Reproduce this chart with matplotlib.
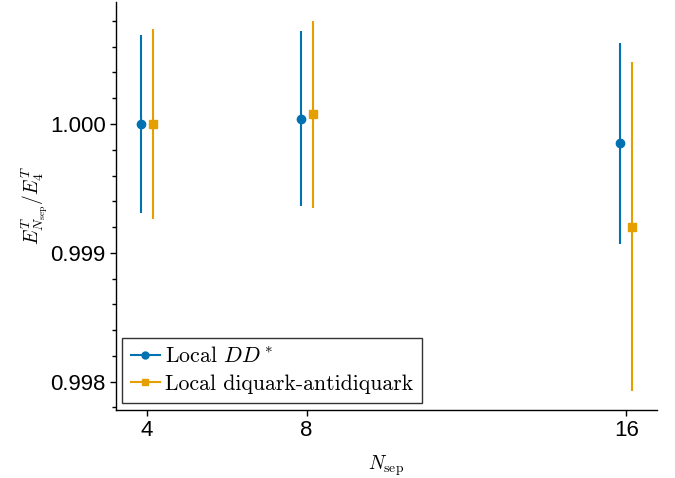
import matplotlib
matplotlib.use("Agg")
import matplotlib.pyplot as plt
from matplotlib.lines import Line2D
from matplotlib.ticker import MultipleLocator, FormatStrFormatter

plt.rcParams["mathtext.fontset"] = "cm"
plt.rcParams["font.family"] = ["Liberation Sans", "DejaVu Sans"]

# Time separations and normalized energies
n_sep = [4, 8, 16]
dd_val = [1.0, 1.000039, 0.99985]
dd_err = [0.000694, 0.000679, 0.000778]
dq_val = [1.0, 1.000075, 0.999204]
dq_err = [0.000739, 0.000728, 0.00128]
x_ticks = [4, 8, 16]
y_ticks = [0.998, 0.999, 1.000]
labels = [r"Local $DD^*$", "Local diquark-antidiquark"]

shift = 0.15
blue = "#0072B2"
orange = "#E69F00"

fig = plt.figure(figsize=(6.75, 4.78), dpi=100)
ax = fig.add_axes([116 / 675, 1 - 410 / 478, (657 - 116) / 675, (410 - 2) / 478])

ax.errorbar([x - shift for x in n_sep], dd_val, yerr=dd_err, fmt="o", color=blue,
            ms=6, elinewidth=1.5, capsize=0)
ax.errorbar([x + shift for x in n_sep], dq_val, yerr=dq_err, fmt="s", color=orange,
            ms=5.5, elinewidth=1.5, capsize=0)

ax.margins(0.05)
ax.set_xticks(x_ticks)
ax.set_yticks(y_ticks)
ax.yaxis.set_major_formatter(FormatStrFormatter("%.3f"))
ax.yaxis.set_minor_locator(MultipleLocator(0.0002))

for s in ("top", "right"):
    ax.spines[s].set_visible(False)
for s in ("left", "bottom"):
    ax.spines[s].set_linewidth(1.0)
ax.tick_params(axis="both", which="major", direction="out", length=4.5, width=1.0,
               labelsize=16, pad=3)
ax.tick_params(axis="y", which="minor", direction="out", length=3, width=1.0)

ax.set_xlabel(r"$N_{\mathrm{sep}}$", fontsize=14, labelpad=9)
ax.set_ylabel(r"$E^T_{N_{\mathrm{sep}}}/E^T_4$", fontsize=14, labelpad=0)

proxies = [
    Line2D([], [], color=blue, marker="o", ms=5, lw=1.5),
    Line2D([], [], color=orange, marker="s", ms=5, lw=1.5),
]
leg = ax.legend(proxies, labels, loc="lower left", bbox_to_anchor=(0.012, 0.018),
                fancybox=False, framealpha=1, edgecolor="#333333",
                prop={"family": "cmr10", "size": 15.7}, handlelength=1.3,
                handletextpad=0.25, borderpad=0.4, labelspacing=0.35,
                borderaxespad=0.0)
leg.get_frame().set_linewidth(1.0)

fig.savefig("out.png", dpi=100)
